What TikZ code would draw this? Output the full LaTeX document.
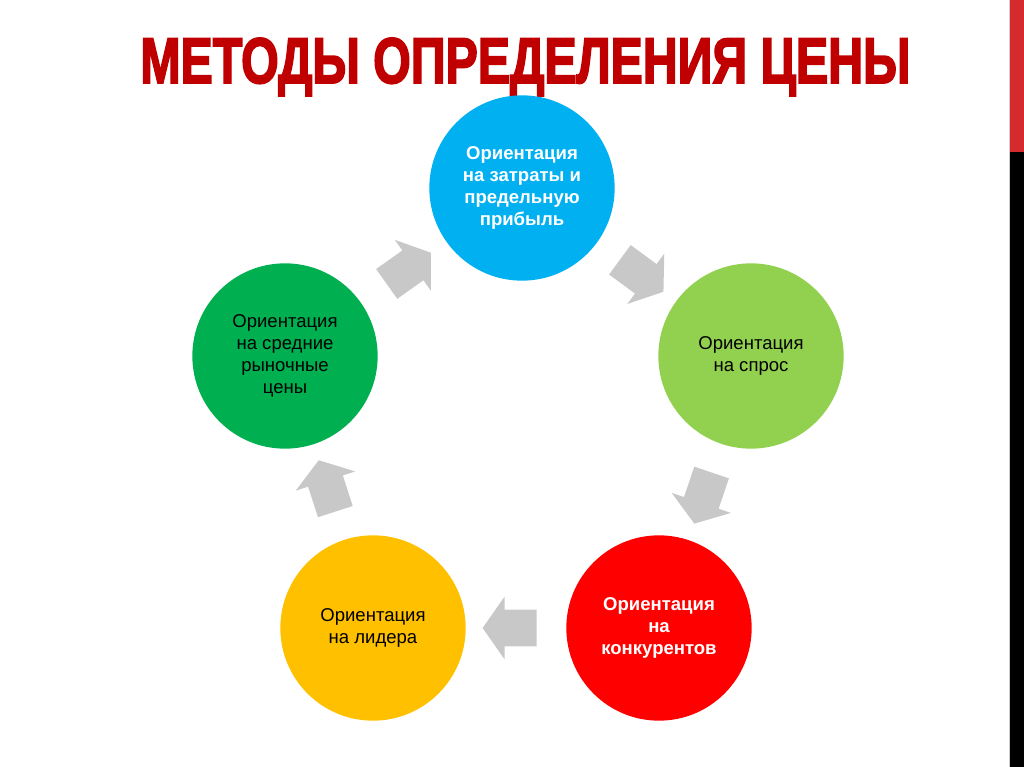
\documentclass[tikz,border=0pt]{standalone}
\usepackage{fontspec}
\setmainfont{Liberation Sans}
\newfontfamily\titlefont[FakeBold=3]{Liberation Sans Bold}
\usepackage{xcolor}
\usetikzlibrary{shapes.arrows,calc}
\definecolor{cBlue}{HTML}{00B0F0}
\definecolor{cLime}{HTML}{92D050}
\definecolor{cRed}{HTML}{FF0000}
\definecolor{cYellow}{HTML}{FFC000}
\definecolor{cGreen}{HTML}{00B050}
\definecolor{cTitle}{HTML}{C00000}
\definecolor{cArrow}{HTML}{C8C8C8}
\definecolor{cBar}{HTML}{D52B2F}

\begin{document}
\begin{tikzpicture}[
    x=0.75pt, y=-0.75pt,
    every node/.style={font=\fontsize{13.9}{16.5}\selectfont},
    metod/.style={circle, draw=none, minimum size=139pt, inner sep=0pt, align=center},
    metodSvetly/.style={metod, text=white, font=\fontsize{13.9}{16.5}\selectfont\bfseries},
    strelka/.style={single arrow, fill=cArrow, draw=none, inner sep=13.5pt,
        minimum height=40.5pt, single arrow head extend=9.75pt,
        single arrow tip angle=110}
]
\useasboundingbox (0,0) rectangle (1024,767);
% Полоса справа
\fill[gray!40] (1008.5,0) rectangle (1010,767);
\fill[cBar] (1010,0) rectangle (1024,152);
\fill[black] (1010,152) rectangle (1024,767);
% Заголовок
\node[anchor=base west, inner sep=0pt, text=cTitle] (zagolovok) at (140,83)
    {\resizebox{577.5pt}{33.75pt}{\titlefont МЕТОДЫ ОПРЕДЕЛЕНИЯ ЦЕНЫ}};
% Методы
\node[metodSvetly, fill=cBlue] (zatraty) at (522,188) {Ориентация\\на затраты и\\предельную\\прибыль};
\node[metod, fill=cLime] (spros) at (751,356) {Ориентация\\на спрос};
\node[metodSvetly, fill=cRed] (konkurenty) at (659,628) {Ориентация\\на\\конкурентов};
\node[metod, fill=cYellow] (lider) at (373,628) {Ориентация\\на лидера};
\node[metod, fill=cGreen] (rynok) at (285,356) {Ориентация\\на средние\\рыночные\\цены};
% Стрелки
\path let \p1=($(spros)-(zatraty)$), \n1={atan2(\y1,\x1)} in
    node[strelka, rotate=\n1] (s1) at ($(zatraty)!0.5!(spros)$) {};
\path let \p1=($(konkurenty)-(spros)$), \n1={atan2(\y1,\x1)} in
    node[strelka, rotate=\n1] (s2) at ($(spros)!0.5!(konkurenty)$) {};
\path let \p1=($(lider)-(konkurenty)$), \n1={atan2(\y1,\x1)} in
    node[strelka, rotate=\n1] (s3) at ($(konkurenty)!0.5!(lider)$) {};
\path let \p1=($(rynok)-(lider)$), \n1={atan2(\y1,\x1)} in
    node[strelka, rotate=\n1] (s4) at ($(lider)!0.5!(rynok)$) {};
\path let \p1=($(zatraty)-(rynok)$), \n1={atan2(\y1,\x1)} in
    node[strelka, rotate=\n1] (s5) at ($(rynok)!0.5!(zatraty)$) {};
\end{tikzpicture}
\end{document}
